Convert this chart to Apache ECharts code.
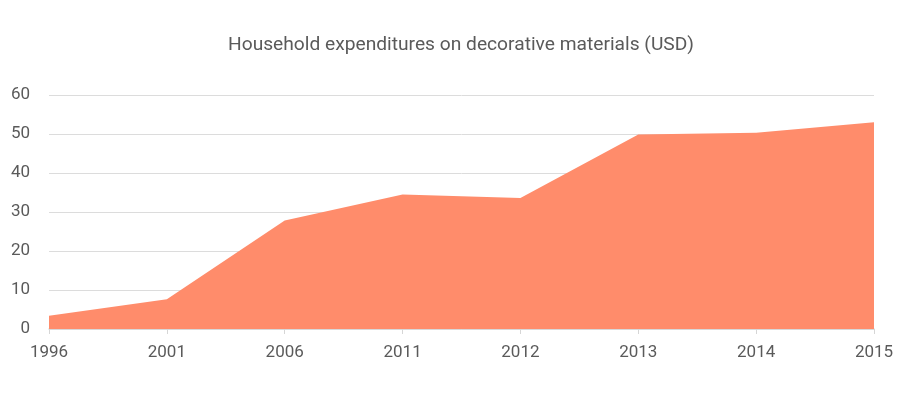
<!DOCTYPE html>
<html><head><meta charset="utf-8">
<script src="https://cdn.jsdelivr.net/npm/echarts@6/dist/echarts.min.js"></script>
<style>html,body{margin:0;padding:0;background:#fff}#c{width:900px;height:394px}</style>
</head><body><div id="c"></div>
<script>
const title = 'Household expenditures on decorative materials (USD)';
const years = ['1996','2001','2006','2011','2012','2013','2014','2015'];
const values = [3.4, 7.6, 27.8, 34.5, 33.6, 49.9, 50.3, 53.0];
const yTicks = {min: 0, max: 60, interval: 10};
const chart = echarts.init(document.getElementById('c'));
chart.setOption({
  animation: false,
  textStyle: {fontFamily: 'Roboto'},
  title: {text: title, left: 223, top: 31, textStyle: {fontFamily: 'Roboto', fontSize: 19.2, fontWeight: 'normal', color: '#5a5a5a'}},
  grid: {left: 49, right: 26, top: 95, bottom: 65},
  xAxis: {type: 'category', data: years, boundaryGap: false,
    axisLine: {lineStyle: {color: '#d6d6d6', width: 1.5}},
    axisTick: {show: true, alignWithLabel: true, length: 5, lineStyle: {color: '#d6d6d6'}},
    axisLabel: {color: '#5a5a5a', fontSize: 17, margin: 15}},
  yAxis: {type: 'value', min: yTicks.min, max: yTicks.max, interval: yTicks.interval,
    axisLine: {show: false}, axisTick: {show: false},
    splitLine: {lineStyle: {color: '#dcdcdc', width: 1}},
    axisLabel: {color: '#5a5a5a', fontSize: 17, margin: 19}},
  series: [{type: 'line', data: values, symbol: 'none', lineStyle: {width: 0},
    areaStyle: {color: '#ff8c6b', opacity: 1}}]
});
</script></body></html>
